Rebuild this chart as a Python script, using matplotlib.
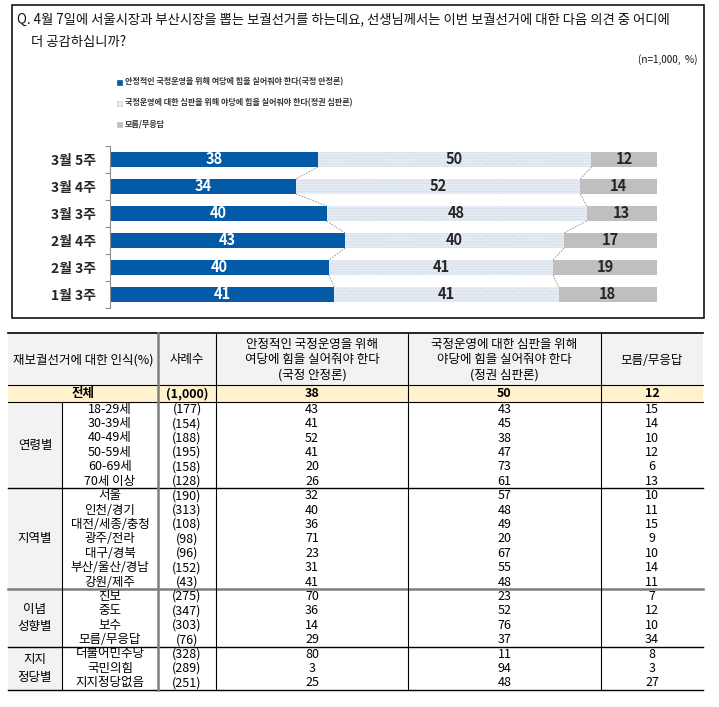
import numpy as np
import matplotlib
matplotlib.use('Agg')
import matplotlib.pyplot as plt
from matplotlib.patches import Rectangle

plt.rcParams['font.family'] = ['Noto Sans CJK KR', 'DejaVu Sans']
plt.rcParams['hatch.linewidth'] = 0.5

# chart data
weeks = ['3월 5주', '3월 4주', '3월 3주', '2월 4주', '2월 3주', '1월 3주']
stable_w = [38, 34, 40, 43, 40, 41]
judge_w = [50, 52, 48, 40, 41, 41]
unknown_w = [12, 14, 13, 17, 19, 18]
legend_labels = ['안정적인 국정운영을 위해 여당에 힘을 실어줘야 한다(국정 안정론)',
                 '국정운영에 대한 심판을 위해 야당에 힘을 실어줘야 한다(정권 심판론)',
                 '모름/무응답']

# table data
head_cols = ['재보궐선거에 대한 인식(%)', '사례수',
             '안정적인 국정운영을 위해\n여당에 힘을 실어줘야 한다\n(국정 안정론)',
             '국정운영에 대한 심판을 위해\n야당에 힘을 실어줘야 한다\n(정권 심판론)',
             '모름/무응답']
total_row = ['전체', '(1,000)', '38', '50', '12']
group_names = ['연령별', '지역별', '이념\n성향별', '지지\n정당별']
group_sizes = [6, 7, 4, 3]
sub_labels = ['18-29세', '30-39세', '40-49세', '50-59세', '60-69세', '70세 이상',
              '서울', '인천/경기', '대전/세종/충청', '광주/전라', '대구/경북', '부산/울산/경남', '강원/제주',
              '진보', '중도', '보수', '모름/무응답',
              '더불어민주당', '국민의힘', '지지정당없음']
sample_n = ['(177)', '(154)', '(188)', '(195)', '(158)', '(128)',
            '(190)', '(313)', '(108)', '(98)', '(96)', '(152)', '(43)',
            '(275)', '(347)', '(303)', '(76)',
            '(328)', '(289)', '(251)']
stable = [43, 41, 52, 41, 20, 26, 32, 40, 36, 71, 23, 31, 41, 70, 36, 14, 29, 80, 3, 25]
judge = [43, 45, 38, 47, 73, 61, 57, 48, 49, 20, 67, 55, 48, 23, 52, 76, 37, 11, 94, 48]
unknown = [15, 14, 10, 12, 6, 13, 10, 11, 15, 9, 10, 14, 11, 7, 12, 10, 34, 8, 3, 27]

BLUE = '#035aa6'
LIGHT = '#e6ecf4'
GRAY = '#bfbfbf'

W, H = 719, 707
fig = plt.figure(figsize=(W / 100, H / 100), dpi=100)

# page layer in pixel coordinates
pg = fig.add_axes([0, 0, 1, 1])
pg.set_xlim(0, W)
pg.set_ylim(H, 0)
pg.axis('off')

pg.add_patch(Rectangle((12, 5), 692, 313, fill=False, edgecolor='black', lw=1.1))
pg.text(17, 19, 'Q. 4월 7일에 서울시장과 부산시장을 뽑는 보궐선거를 하는데요, 선생님께서는 이번 보궐선거에 대한 다음 의견 중 어디에',
        fontsize=9.6, va='center', ha='left', color='#111111')
pg.text(31, 42, '더 공감하십니까?', fontsize=9.6, va='center', ha='left', color='#111111')
pg.text(697, 60, '(n=1,000,  %)', fontsize=7.2, va='center', ha='right', color='#111111')

leg_colors = [BLUE, LIGHT, GRAY]
leg_edges = [BLUE, '#c8d3e0', GRAY]
for i, lab in enumerate(legend_labels):
    yy = 82 + 21 * i
    pg.add_patch(Rectangle((117, yy - 2.5), 5, 5, facecolor=leg_colors[i], edgecolor=leg_edges[i], lw=0.5))
    pg.text(125, yy, lab, fontsize=5.8, fontweight='bold', va='center', ha='left', color='#333333')

# stacked bar chart
ax = fig.add_axes([110 / W, 1 - 308 / H, 547 / W, 162 / H])
ax.set_facecolor('none')
tot = np.array(stable_w) + np.array(judge_w) + np.array(unknown_w)
s1 = np.array(stable_w) / tot * 100
s2 = np.array(judge_w) / tot * 100
s3 = np.array(unknown_w) / tot * 100
y = np.arange(len(weeks))
h = 0.56
ax.barh(y, s1, height=h, color=BLUE, lw=0)
ax.barh(y, s2, left=s1, height=h, color=LIGHT, hatch='......', edgecolor='#c9d5e3', lw=0)
ax.barh(y, s3, left=s1 + s2, height=h, color=GRAY, lw=0)

c1 = s1
c2 = s1 + s2
c3 = s1 + s2 + s3
for i in range(len(weeks) - 1):
    for c in (c1, c2, c3):
        ax.plot([c[i], c[i + 1]], [i + h / 2, i + 1 - h / 2], ls=(0, (2, 1.5)), color='#8c8c8c', lw=0.6)

for i in range(len(weeks)):
    ax.text(s1[i] / 2, i, str(stable_w[i]), color='white', fontsize=10.5, fontweight='bold', ha='center', va='center')
    ax.text(s1[i] + s2[i] / 2, i, str(judge_w[i]), color='#262626', fontsize=10.5, fontweight='bold', ha='center', va='center')
    ax.text(c2[i] + s3[i] / 2, i, str(unknown_w[i]), color='#262626', fontsize=10.5, fontweight='bold', ha='center', va='center')

ax.set_xlim(0, 100)
ax.set_ylim(len(weeks) - 0.5, -0.5)
ax.set_yticks(y)
ax.set_yticklabels(weeks, fontsize=10, fontweight='bold', color='#262626')
ax.set_yticks(np.arange(len(weeks) + 1) - 0.5, minor=True)
ax.tick_params(axis='y', which='major', length=0, pad=10)
ax.tick_params(axis='y', which='minor', length=3.5, color='#8c8c8c', width=0.8)
ax.set_xticks([])
for sp in ['top', 'right', 'bottom']:
    ax.spines[sp].set_visible(False)
ax.spines['left'].set_color('#8c8c8c')
ax.spines['left'].set_linewidth(0.8)

# table
xs = [8, 62, 158, 216, 408, 601, 703]
top, head_b, tot_b = 333, 385, 402
row_h = (690 - tot_b) / sum(group_sizes)
bottom = tot_b + row_h * sum(group_sizes)
fs = 9.0

pg.add_patch(Rectangle((xs[0], top), xs[-1] - xs[0], head_b - top, facecolor='#f2f2f2', lw=0))
pg.add_patch(Rectangle((xs[0], head_b), xs[-1] - xs[0], tot_b - head_b, facecolor='#fff2cc', lw=0))
pg.add_patch(Rectangle((xs[0], tot_b), xs[1] - xs[0], bottom - tot_b, facecolor='#f2f2f2', lw=0))

centers = [(xs[k] + xs[k + 1]) / 2 for k in range(len(xs) - 1)]
head_x = [(xs[0] + xs[2]) / 2, centers[2], centers[3], centers[4], centers[5]]
hy = (top + head_b) / 2
for k, lab in enumerate(head_cols):
    pg.text(head_x[k], hy + 1, lab, fontsize=fs, ha='center', va='center', linespacing=1.22, color='black')
ty = (head_b + tot_b) / 2
for k, lab in enumerate(total_row):
    pg.text(head_x[k], ty, lab, fontsize=fs, fontweight='bold', ha='center', va='center', color='black')

for r in range(len(sub_labels)):
    ry = tot_b + row_h * (r + 0.5)
    vals = [sub_labels[r], sample_n[r], str(stable[r]), str(judge[r]), str(unknown[r])]
    for k, v in enumerate(vals):
        pg.text(centers[k + 1], ry, v, fontsize=fs, ha='center', va='center', color='black')

start = tot_b
for g, n in zip(group_names, group_sizes):
    end = start + row_h * n
    pg.text(centers[0], (start + end) / 2, g, fontsize=fs, ha='center', va='center', linespacing=1.45, color='black')
    start = end

# table lines
pg.plot([xs[0], xs[-1]], [top, top], color='black', lw=1.2)
pg.plot([xs[0], xs[-1]], [head_b, head_b], color='black', lw=0.8)
pg.plot([xs[0], xs[-1]], [tot_b, tot_b], color='black', lw=0.8)
start = tot_b
for gi, n in enumerate(group_sizes):
    start += row_h * n
    if gi == 1:
        pg.plot([xs[0], xs[-1]], [start, start], color='#7f7f7f', lw=1.8)
    else:
        pg.plot([xs[0], xs[-1]], [start, start], color='black', lw=1.0)
pg.plot([xs[1], xs[1]], [tot_b, bottom], color='black', lw=0.8)
pg.plot([xs[2], xs[2]], [top, bottom], color='#7f7f7f', lw=1.8)
for k in (3, 4, 5):
    pg.plot([xs[k], xs[k]], [top, bottom], color='black', lw=0.8)

fig.savefig('out.png', dpi=100)
